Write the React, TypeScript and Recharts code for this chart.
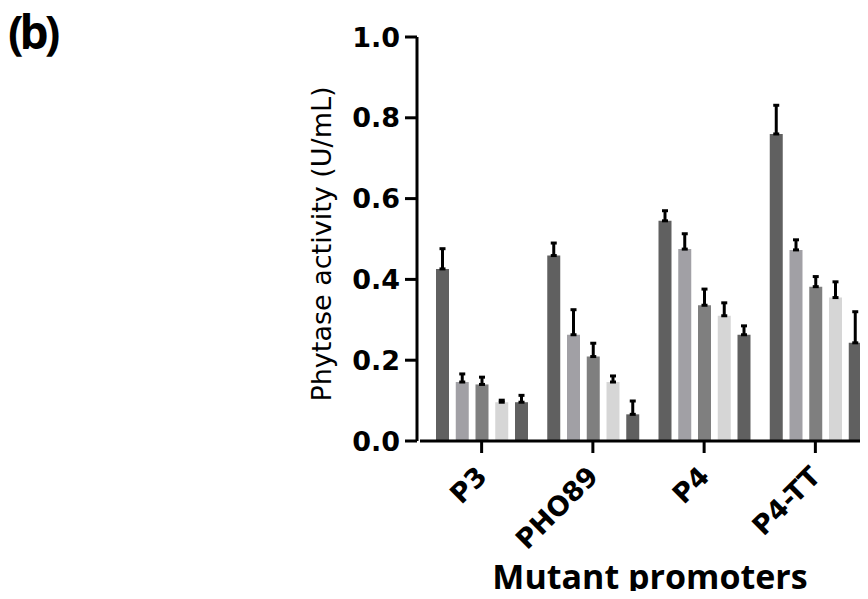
import { BarChart, Bar, XAxis, YAxis, ErrorBar } from 'recharts'

// promoter groups along the x axis
const promoters = ['P3', 'PHO89', 'P4', 'P4-TT']

// five bars per promoter (U/mL)
const cond1 = [0.426, 0.459, 0.545, 0.760]
const cond2 = [0.146, 0.263, 0.475, 0.473]
const cond3 = [0.140, 0.209, 0.336, 0.382]
const cond4 = [0.096, 0.146, 0.310, 0.355]
const cond5 = [0.096, 0.066, 0.263, 0.243]

// upper error (SD) for each bar
const err1 = [0.050, 0.031, 0.025, 0.071]
const err2 = [0.020, 0.062, 0.038, 0.025]
const err3 = [0.018, 0.033, 0.040, 0.025]
const err4 = [0.005, 0.015, 0.032, 0.039]
const err5 = [0.017, 0.033, 0.022, 0.077]

const yTicks = [0, 0.2, 0.4, 0.6, 0.8, 1.0]

const series = [
  { key: 'c1', values: cond1, errs: err1, color: '#606060' },
  { key: 'c2', values: cond2, errs: err2, color: '#a1a0a5' },
  { key: 'c3', values: cond3, errs: err3, color: '#7f7f7f' },
  { key: 'c4', values: cond4, errs: err4, color: '#d6d6d6' },
  { key: 'c5', values: cond5, errs: err5, color: '#606060' },
]

const data = promoters.map((name, i) => {
  const row: Record<string, any> = { name }
  series.forEach(s => {
    row[s.key] = s.values[i]
    row[s.key + 'Err'] = [0, s.errs[i]]
  })
  return row
})

const tickFont = { fontFamily: 'DejaVu Sans', fontWeight: 'bold', fontSize: 27, fill: '#000' }

const XTick = (props: any) => {
  const { x, y, payload } = props
  return (
    <g transform={`translate(${x + 7},${y + 23}) rotate(-45)`}>
      <text x={0} y={0} textAnchor="end" {...tickFont}>{payload.value}</text>
    </g>
  )
}

const App = () => {
  return (
    <div style={{ position: 'relative', width: 868, height: 599, margin: -8, overflow: 'hidden', background: '#fff' }}>
      <div style={{ position: 'absolute', left: 8, top: 0, fontFamily: 'Open Sans', fontWeight: 700, fontSize: 46, lineHeight: 'normal', letterSpacing: -4 }}>
        (b)
      </div>
      <BarChart
        width={871}
        height={599}
        data={data}
        margin={{ top: 37, right: 0, bottom: 0, left: 317 }}
        barGap={6.75}
      >
        <XAxis
          dataKey="name"
          interval={0}
          height={158}
          padding={{ left: 9, right: 0 }}
          tickSize={12}
          tickMargin={2}
          axisLine={{ stroke: '#000', strokeWidth: 3, strokeDasharray: '0 3 5000' }}
          tickLine={{ stroke: '#000', strokeWidth: 3 }}
          tick={<XTick />}
          label={(p: any) => {
            const vb = p.viewBox
            return (
              <text x={vb.x + vb.width / 2 + 6} y={vb.y + 148} textAnchor="middle"
                fontFamily="Open Sans" fontWeight={700} fontSize={34} fill="#000">
                Mutant promoters
              </text>
            )
          }}
        />
        <YAxis
          width={100}
          domain={[0, 1]}
          ticks={yTicks}
          tickFormatter={(v: number) => v.toFixed(1)}
          tickSize={12}
          tickMargin={5}
          axisLine={{ stroke: '#000', strokeWidth: 3 }}
          tickLine={{ stroke: '#000', strokeWidth: 3 }}
          tick={tickFont}
          label={(p: any) => {
            const vb = p.viewBox
            const cx = vb.x + 14
            const cy = vb.y + vb.height / 2 + 5
            return (
              <text x={cx} y={cy} textAnchor="middle" transform={`rotate(-90 ${cx} ${cy})`}
                fontFamily="DejaVu Sans" fontSize={27} fill="#000">
                Phytase activity (U/mL)
              </text>
            )
          }}
        />
        {series.map(s => (
          <Bar key={s.key} dataKey={s.key} fill={s.color} barSize={13} isAnimationActive={false}>
            <ErrorBar dataKey={s.key + 'Err'} direction="y" width={3} stroke="#000" strokeWidth={3} />
          </Bar>
        ))}
      </BarChart>
    </div>
  )
}

export default App
